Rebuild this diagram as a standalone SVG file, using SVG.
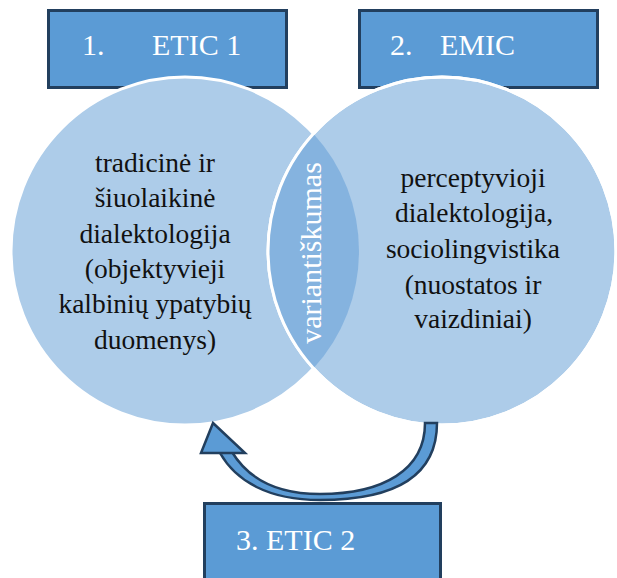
<svg xmlns="http://www.w3.org/2000/svg" width="617" height="578" viewBox="0 0 617 578">
<style>
.box{fill:#5b9bd5;stroke:#223f5e;stroke-width:3}
.boxtxt{font-family:'Liberation Serif','Times New Roman',Times,'DejaVu Serif',serif;font-size:30px;fill:#ffffff}
.circ{fill:#adcce9;stroke:#ffffff;stroke-width:3}
.ctxt{font-family:'Liberation Serif','Times New Roman',Times,'DejaVu Serif',serif;font-size:27.5px;fill:#111111;text-anchor:middle}
.vtxt{font-family:'Liberation Serif','Times New Roman',Times,'DejaVu Serif',serif;font-size:30px;fill:#ffffff;text-anchor:middle}
.arrow{fill:#5b9bd5;stroke:#223f5e;stroke-width:2.5;stroke-linejoin:miter}
</style>
<rect width="617" height="578" fill="#ffffff"/>
<g id="etic1">
<rect class="box" x="48.5" y="10.5" width="238" height="77"/>
<text class="boxtxt" y="55"><tspan x="82">1.</tspan><tspan x="152">ETIC 1</tspan></text>
</g>
<g id="emic">
<rect class="box" x="359.5" y="10.5" width="238" height="77"/>
<text class="boxtxt" y="55"><tspan x="390">2.</tspan><tspan x="440">EMIC</tspan></text>
</g>
<g id="etic2">
<rect class="box" x="204.5" y="503.5" width="236" height="82"/>
<text class="boxtxt" x="236" y="550">3. ETIC 2</text>
</g>
<g id="left-circle">
<circle class="circ" cx="185" cy="251" r="174"/>
</g>
<g id="right-circle">
<circle class="circ" cx="442" cy="251" r="174"/>
</g>
<g id="overlap">
<path d="M313.5 133.7 A174 174 0 0 1 313.5 368.3 A174 174 0 0 1 313.5 133.7 Z" fill="#85b3df"/>
<circle cx="442" cy="251" r="174" fill="none" stroke="#ffffff" stroke-width="3"/>
<text class="vtxt" transform="translate(321,253) rotate(-90)">variantiškumas</text>
</g>
<g id="left-text">
<text class="ctxt" x="155" y="172">tradicinė ir</text>
<text class="ctxt" x="155" y="207">šiuolaikinė</text>
<text class="ctxt" x="155" y="243">dialektologija</text>
<text class="ctxt" x="155" y="278">(objektyvieji</text>
<text class="ctxt" x="155" y="313">kalbinių ypatybių</text>
<text class="ctxt" x="155" y="349">duomenys)</text>
</g>
<g id="right-text">
<text class="ctxt" x="473" y="187">perceptyvioji</text>
<text class="ctxt" x="474" y="222">dialektologija,</text>
<text class="ctxt" x="473" y="258">sociolingvistika</text>
<text class="ctxt" x="473" y="294">(nuostatos ir</text>
<text class="ctxt" x="473" y="328">vaizdiniai)</text>
</g>
<g id="connectors">
<path class="arrow" d="M425 423 L437 423 C437 476 395 500 320 500 C268 500 236 481 220 453 L232 452 C246 475 272 494 320 494 C383 494 425 470 425 423 Z"/>
<polygon class="arrow" points="213,423 201,453 245,453" stroke-width="3"/>
</g>
</svg>
